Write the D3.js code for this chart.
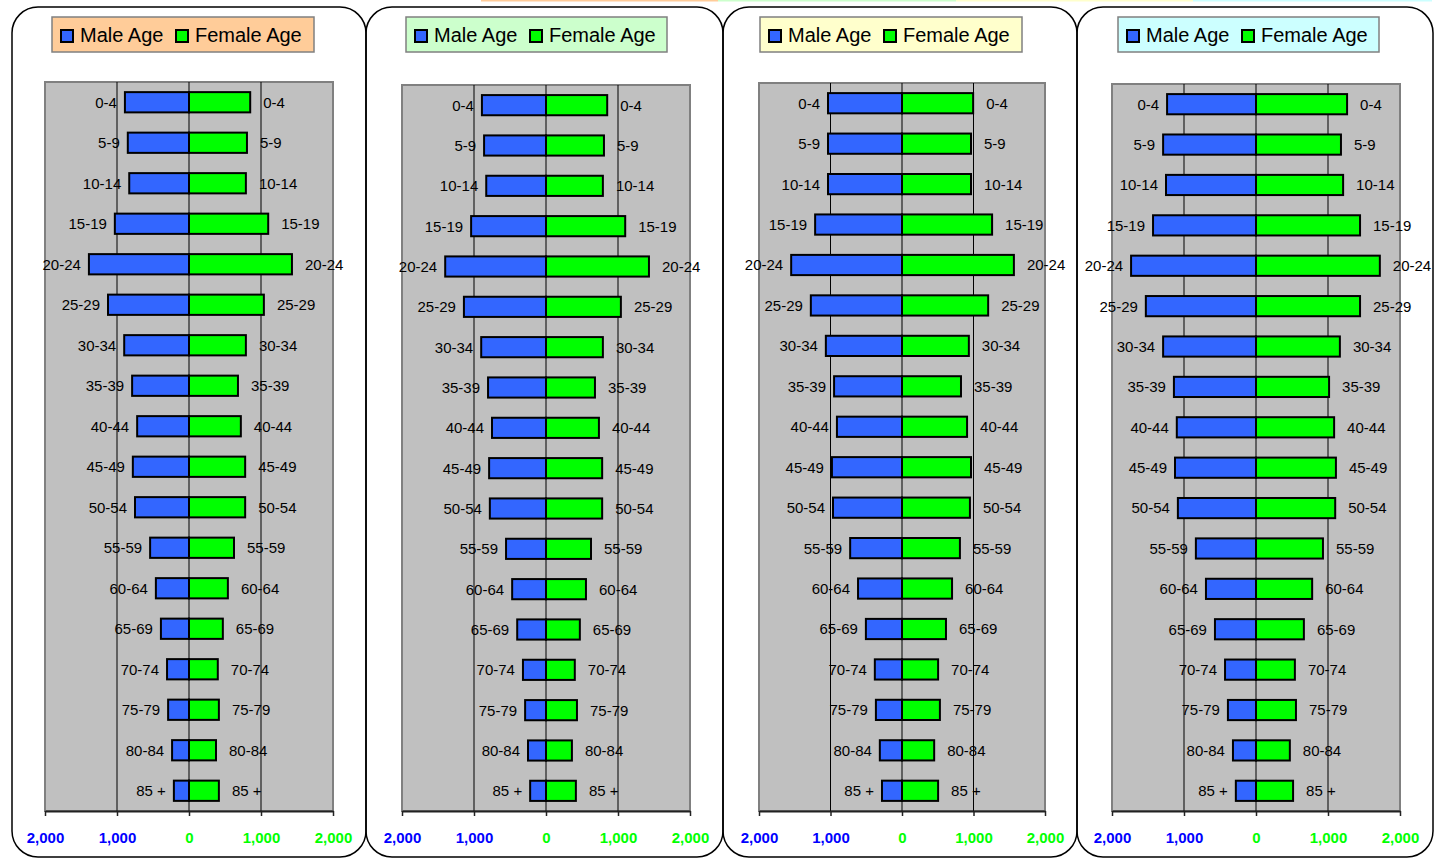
<!DOCTYPE html>
<html>
<head>
<meta charset="utf-8">
<script src="https://cdn.jsdelivr.net/npm/d3@7"></script>
<style>
  body { margin: 0; background: #ffffff; }
  svg { display: block; }
  text { font-family: "Liberation Sans", Arial, Helvetica, sans-serif; }
</style>
</head>
<body>
<svg id="chart" width="1441" height="858"></svg>
<script>
// Age bands shared by all four pyramids
const ageGroups = ["0-4", "5-9", "10-14", "15-19", "20-24", "25-29", "30-34", "35-39", "40-44",
  "45-49", "50-54", "55-59", "60-64", "65-69", "70-74", "75-79", "80-84", "85 +"];

// Population counts per band
const maleChart1   = [890, 850, 830, 1030, 1390, 1125, 900, 790, 720, 780, 750, 540, 460, 390, 305, 290, 235, 210];
const femaleChart1 = [850, 805, 790, 1100, 1430, 1040, 790, 680, 720, 780, 780, 625, 540, 470, 400, 415, 375, 415];

const maleChart2   = [890, 860, 830, 1040, 1400, 1140, 900, 805, 750, 790, 780, 555, 470, 400, 320, 290, 250, 220];
const femaleChart2 = [850, 805, 790, 1100, 1430, 1040, 790, 680, 735, 780, 780, 625, 555, 470, 400, 430, 360, 415];

const maleChart3   = [1035, 1035, 1035, 1215, 1550, 1275, 1065, 950, 910, 980, 965, 725, 615, 505, 380, 365, 310, 280];
const femaleChart3 = [995, 965, 965, 1260, 1565, 1205, 935, 825, 910, 965, 950, 810, 700, 615, 505, 530, 450, 505];

const maleChart4   = [1235, 1290, 1250, 1430, 1735, 1530, 1290, 1140, 1100, 1125, 1085, 835, 695, 570, 430, 390, 320, 280];
const femaleChart4 = [1265, 1180, 1210, 1445, 1720, 1445, 1165, 1015, 1085, 1110, 1100, 930, 780, 665, 540, 555, 470, 515];

// Axis ticks (negative side = male)
const tickValues = [-2000, -1000, 0, 1000, 2000];
const legendLabels = ["Male Age", "Female Age"];
const legendFills = ["#FFCC99", "#CCFFCC", "#FFFFCC", "#CCFFFF"];

const MALE = "#3366FF", FEMALE = "#00FF00", PLOT_BG = "#C0C0C0";

const panels = [
  { frame: [12, 366],   plot: { x: 45,   w: 288, top: 82 }, legend: { x: 52,   w: 262 }, male: maleChart1, female: femaleChart1, fill: legendFills[0] },
  { frame: [366, 723],  plot: { x: 402,  w: 288, top: 85 }, legend: { x: 406,  w: 261 }, male: maleChart2, female: femaleChart2, fill: legendFills[1] },
  { frame: [723, 1077], plot: { x: 759,  w: 286, top: 83 }, legend: { x: 760,  w: 262 }, male: maleChart3, female: femaleChart3, fill: legendFills[2] },
  { frame: [1077, 1433],plot: { x: 1112, w: 288, top: 84 }, legend: { x: 1118, w: 261 }, male: maleChart4, female: femaleChart4, fill: legendFills[3] }
];
const PLOT_BOTTOM = 811;

const svg = d3.select("#chart");

// thin coloured strips along the top edge
const strips = [[481, 718], [718, 956], [956, 1193], [1193, 1432]];
svg.selectAll("rect.strip").data(strips).join("rect")
  .attr("class", "strip")
  .attr("x", d => d[0]).attr("y", 0)
  .attr("width", d => d[1] - d[0]).attr("height", 1.5)
  .attr("fill", (d, i) => legendFills[i]);

panels.forEach(p => {
  const g = svg.append("g");

  // rounded frame
  g.append("rect")
    .attr("x", p.frame[0]).attr("y", 7)
    .attr("width", p.frame[1] - p.frame[0]).attr("height", 850)
    .attr("rx", 26).attr("ry", 26)
    .attr("fill", "none").attr("stroke", "#000").attr("stroke-width", 1.5);

  // legend
  const lg = g.append("g").attr("transform", `translate(${p.legend.x},17)`);
  lg.append("rect").attr("width", p.legend.w).attr("height", 35)
    .attr("fill", p.fill).attr("stroke", "#808080").attr("stroke-width", 1.5);
  const items = [{ c: MALE, sx: 8, tx: 28 }, { c: FEMALE, sx: 123, tx: 143 }];
  items.forEach((it, i) => {
    lg.append("rect").attr("x", it.sx + 1).attr("y", 13).attr("width", 12).attr("height", 12)
      .attr("fill", it.c).attr("stroke", "#000").attr("stroke-width", 2);
    lg.append("text").attr("x", it.tx).attr("y", 25)
      .attr("font-size", 20).attr("fill", "#000").text(legendLabels[i]);
  });

  // scales
  const x = d3.scaleLinear().domain([-2000, 2000]).range([p.plot.x, p.plot.x + p.plot.w]);
  const y = d3.scaleBand().domain(ageGroups).range([p.plot.top, PLOT_BOTTOM]).paddingInner(0.5).paddingOuter(0.25);

  // plot area
  g.append("rect")
    .attr("x", p.plot.x).attr("y", p.plot.top)
    .attr("width", p.plot.w).attr("height", PLOT_BOTTOM - p.plot.top)
    .attr("fill", PLOT_BG).attr("stroke", "#808080").attr("stroke-width", 2);

  // vertical gridlines
  g.selectAll("line.grid").data([-1000, 0, 1000]).join("line")
    .attr("class", "grid")
    .attr("x1", d => x(d)).attr("x2", d => x(d))
    .attr("y1", p.plot.top).attr("y2", PLOT_BOTTOM)
    .attr("stroke", "#000").attr("stroke-width", 1);

  // bars
  g.selectAll("rect.male").data(ageGroups).join("rect")
    .attr("class", "male")
    .attr("x", (d, i) => x(-p.male[i])).attr("y", d => y(d))
    .attr("width", (d, i) => x(0) - x(-p.male[i])).attr("height", y.bandwidth())
    .attr("fill", MALE).attr("stroke", "#000").attr("stroke-width", 2);
  g.selectAll("rect.female").data(ageGroups).join("rect")
    .attr("class", "female")
    .attr("x", x(0)).attr("y", d => y(d))
    .attr("width", (d, i) => x(p.female[i]) - x(0)).attr("height", y.bandwidth())
    .attr("fill", FEMALE).attr("stroke", "#000").attr("stroke-width", 2);

  // category labels at the bar ends
  g.selectAll("text.ml").data(ageGroups).join("text")
    .attr("class", "ml")
    .attr("x", (d, i) => x(-p.male[i]) - 8)
    .attr("y", d => y(d) + y.bandwidth() / 2).attr("dy", "0.36em")
    .attr("text-anchor", "end").attr("font-size", 15).attr("fill", "#000")
    .text(d => d);
  g.selectAll("text.fl").data(ageGroups).join("text")
    .attr("class", "fl")
    .attr("x", (d, i) => x(p.female[i]) + 13)
    .attr("y", d => y(d) + y.bandwidth() / 2).attr("dy", "0.36em")
    .attr("text-anchor", "start").attr("font-size", 15).attr("fill", "#000")
    .text(d => d);

  // bottom axis
  const axis = d3.axisBottom(x).tickValues(tickValues)
    .tickFormat(d => d3.format(",")(Math.abs(d)))
    .tickSizeInner(5).tickSizeOuter(0).tickPadding(16);
  const ag = g.append("g").attr("transform", `translate(0,${PLOT_BOTTOM})`).call(axis);
  ag.select(".domain").attr("stroke", "#222").attr("stroke-width", 2);
  ag.selectAll(".tick line").attr("stroke", "#222").attr("stroke-width", 1.5);
  ag.selectAll(".tick text")
    .attr("font-family", "'Liberation Sans', Arial, sans-serif")
    .attr("font-size", 15).attr("font-weight", "bold")
    .attr("fill", d => d < 0 ? "#0000FF" : "#00FF00");
});
</script>
</body>
</html>
